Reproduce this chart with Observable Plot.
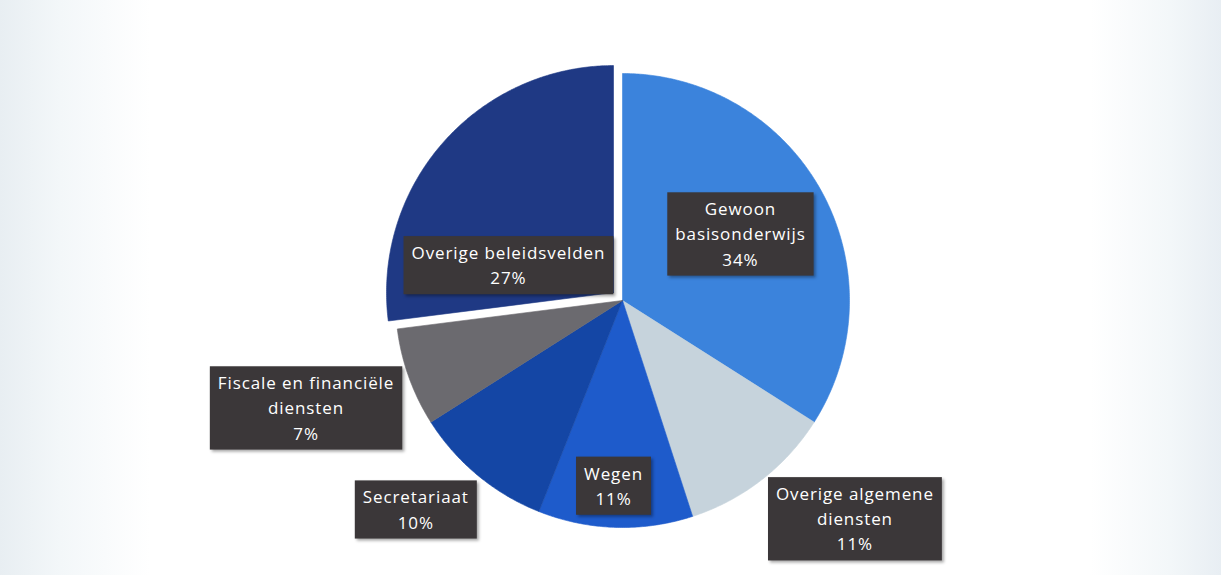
<!DOCTYPE html>
<html><head><meta charset="utf-8">
<script src="https://cdn.jsdelivr.net/npm/d3@7"></script>
<script src="https://cdn.jsdelivr.net/npm/@observablehq/plot@0.6"></script>
<style>
html,body{margin:0;padding:0;}
body{width:1221px;height:575px;overflow:hidden;background:linear-gradient(to right,#e8eef2 0px,#f3f7f9 60px,#ffffff 150px,#ffffff 1090px,#f3f7f9 1170px,#e8eef3 1221px);}
svg text{font-variant-ligatures:none;letter-spacing:0.9px;}
</style></head><body><div id="chart"></div>
<script>
// ---- data ----
const categories = ["Gewoon basisonderwijs","Overige algemene diensten","Wegen","Secretariaat","Fiscale en financiële diensten","Overige beleidsvelden"];
const shares = [34, 11, 11, 10, 7, 27];
const labelLines = ["Gewoon\nbasisonderwijs","Overige algemene\ndiensten","Wegen","Secretariaat","Fiscale en financiële\ndiensten","Overige beleidsvelden"];
const colors = ["#3b83dc","#c6d3dc","#1e5bcb","#1446a5","#6b6a6f","#1f3984"];

// ---- layout ----
const W = 1221, H = 575, CX = 622, CY = 300, R = 227;
const explode = [0, 0, 0, 0, 0, 12]; // px
const labelPolar = [[60,0.60],[133,1.40],[182.8,0.81],[224.9,1.29],[251.5,1.47],[285.4,0.48]];
const FONT = "'Open Sans', Lato, sans-serif";

const pie = d3.pie().sort(null).value(d => d)(shares);

const slicePts = [];
const labels = [];
pie.forEach((p, i) => {
  const off = explode[i] / R, mid = (p.startAngle + p.endAngle) / 2;
  const ox = Math.sin(mid) * off, oy = -Math.cos(mid) * off;
  const name = categories[i];
  slicePts.push({name, x: ox, y: oy});
  const n = Math.max(2, Math.ceil((p.endAngle - p.startAngle) / (Math.PI / 360)));
  for (let k = 0; k <= n; k++) {
    const a = p.startAngle + (p.endAngle - p.startAngle) * k / n;
    slicePts.push({name, x: ox + Math.sin(a), y: oy - Math.cos(a)});
  }
  slicePts.push({name, x: ox, y: oy});
  const [b, f] = labelPolar[i];
  const br = b * Math.PI / 180;
  labels.push({name, x: ox + Math.sin(br) * f, y: oy - Math.cos(br) * f, text: labelLines[i] + "\n" + shares[i] + "%"});
});

const plot = Plot.plot({
  width: W, height: H, margin: 0,
  style: {background: "transparent"},
  x: {domain: [-CX / R, (W - CX) / R], range: [0, W], axis: null},
  y: {domain: [-CY / R, (H - CY) / R], range: [0, H], axis: null},
  color: {domain: categories, range: colors},
  marks: [
    Plot.line(slicePts, {x: "x", y: "y", z: "name", fill: "name", stroke: "name", strokeWidth: 0.6, curve: "linear"}),
    Plot.text(labels, {x: "x", y: "y", text: "text", fill: "white", fontSize: 17, lineHeight: 1.48, fontFamily: FONT})
  ]
});
document.getElementById("chart").append(plot);

// label background boxes
const ns = "http://www.w3.org/2000/svg";
plot.querySelectorAll('g[aria-label="text"] text').forEach(t => {
  const b = t.getBBox();
  const r = document.createElementNS(ns, "rect");
  r.setAttribute("x", b.x - 8);
  r.setAttribute("y", b.y - 5);
  r.setAttribute("width", b.width + 16);
  r.setAttribute("height", b.height + 10);
  r.setAttribute("fill", "#3b3739");
  r.setAttribute("style", "filter: drop-shadow(2px 2px 1.5px rgba(0,0,0,0.35))");
  if (t.getAttribute("transform")) r.setAttribute("transform", t.getAttribute("transform"));
  t.parentNode.insertBefore(r, t);
});
</script></body></html>
